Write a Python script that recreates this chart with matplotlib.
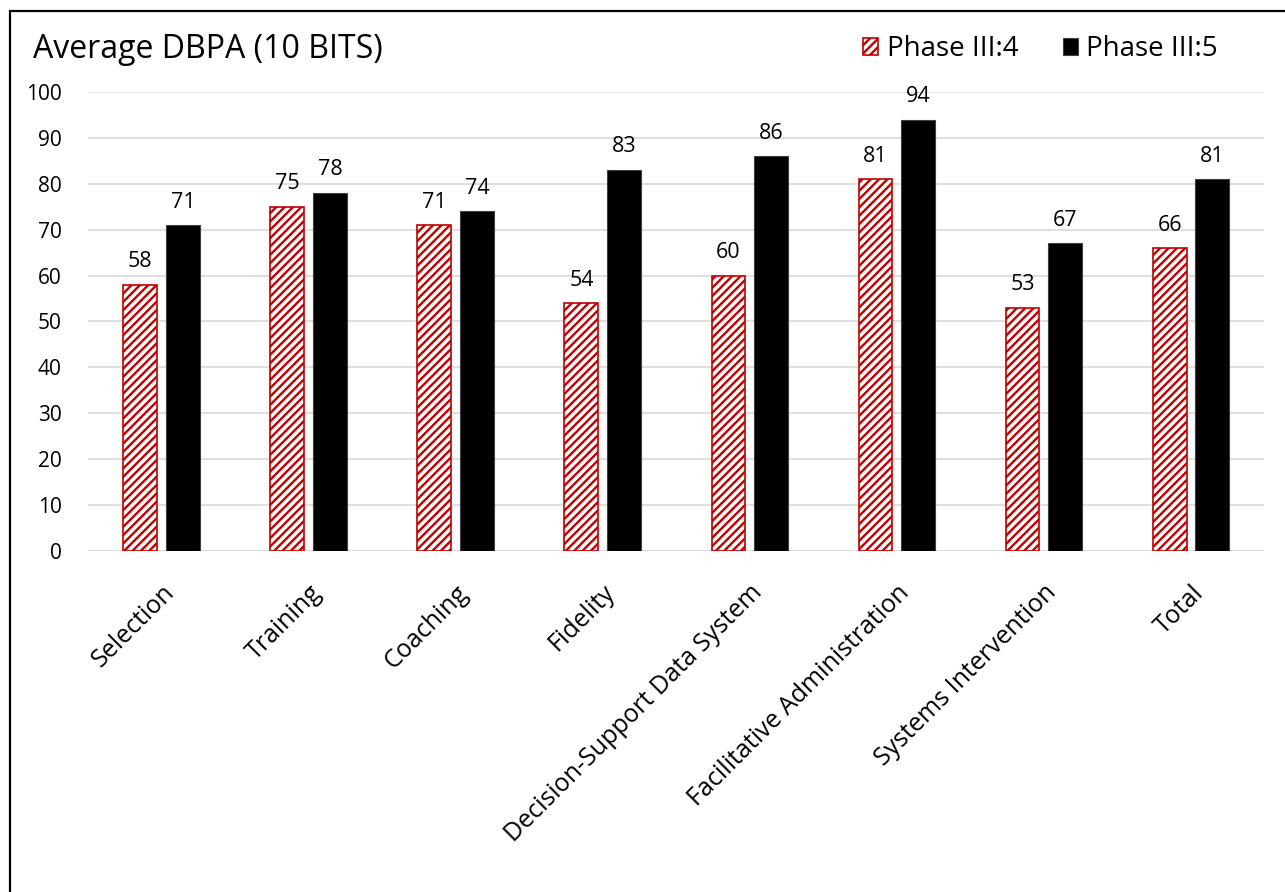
import numpy as np
import matplotlib.pyplot as plt
from matplotlib.patches import Rectangle

plt.rcParams['font.family'] = ['Open Sans', 'DejaVu Sans']
plt.rcParams['hatch.linewidth'] = 1.7

# DBPA averages by capacity area
categories = ['Selection', 'Training', 'Coaching', 'Fidelity',
              'Decision-Support Data System', 'Facilitative Administration',
              'Systems Intervention', 'Total']
phase_4 = [58, 75, 71, 54, 60, 81, 53, 66]
phase_5 = [71, 78, 74, 83, 86, 94, 67, 81]
series_names = ['Phase III:4', 'Phase III:5']
yticks = [0, 10, 20, 30, 40, 50, 60, 70, 80, 90, 100]

red = '#C00000'

fig = plt.figure(figsize=(12.85, 8.92), dpi=100)
ax = fig.add_axes([0.0685, 0.3823, 0.9155, 0.5146])

# outer chart border (runs off the right and bottom edges)
fig.patches.append(Rectangle((10 / 1285, -0.1), 1.2, 1.1 - 10.5 / 892,
                             transform=fig.transFigure, fill=False,
                             edgecolor='black', linewidth=1.6, zorder=0))

x = np.arange(len(categories))
w = 0.23
off = 0.145
b1 = ax.bar(x - off, phase_4, w, color='white', edgecolor=red,
            hatch='////', linewidth=1.2, label=series_names[0], zorder=3)
b2 = ax.bar(x + off, phase_5, w, color='black', edgecolor='#404040',
            linewidth=0.8, label=series_names[1], zorder=3)

for bars in (b1, b2):
    for r in bars:
        ax.annotate(f'{r.get_height():.0f}',
                    (r.get_x() + r.get_width() / 2, r.get_height()),
                    xytext=(0, 9), textcoords='offset points',
                    ha='center', va='bottom', fontsize=15.5)

ax.set_xlim(-0.5, len(categories) - 0.5)
ax.set_ylim(0, 100)
ax.set_yticks(yticks)
ax.yaxis.grid(True, color='#D9D9D9', linewidth=1.2)
ax.set_axisbelow(True)
for s in ax.spines.values():
    s.set_visible(False)
ax.tick_params(axis='both', length=0, labelsize=15)
ax.tick_params(axis='y', pad=19)
ax.set_xticks(x)
ax.set_xticklabels(categories, rotation=45, ha='right',
                   rotation_mode='anchor', fontsize=18)
ax.tick_params(axis='x', pad=21)

fig.text(33 / 1285, 1 - 50 / 892, 'Average DBPA (10 BITS)', fontsize=23,
         va='center', ha='left')

fig.legend(loc='center right', bbox_to_anchor=(1232 / 1285, 1 - 49 / 892),
           ncol=2, frameon=False, fontsize=20, handlelength=0.55,
           handleheight=0.55, handletextpad=0.3, columnspacing=1.6,
           borderpad=0.0)

fig.savefig('out.png', dpi=100)
